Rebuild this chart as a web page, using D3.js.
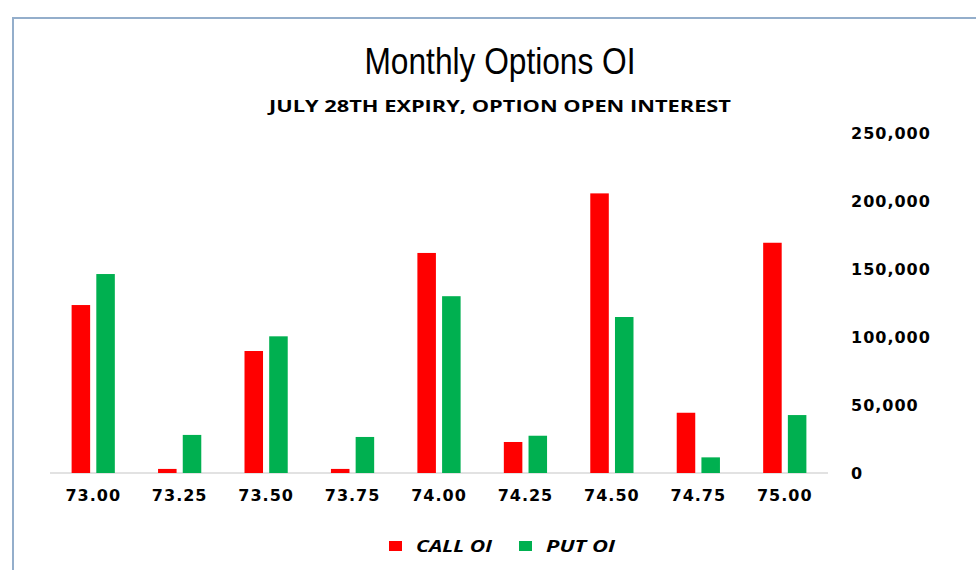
<!DOCTYPE html>
<html>
<head>
<meta charset="utf-8">
<script src="https://cdn.jsdelivr.net/npm/d3@7"></script>
<style>
  body { margin: 0; background: #fff; }
  svg { display: block; }
</style>
</head>
<body>
<div id="chart"></div>
<script>
const strikes = ["73.00", "73.25", "73.50", "73.75", "74.00", "74.25", "74.50", "74.75", "75.00"];
const callOI = [123500, 3000, 89700, 3000, 161800, 22800, 205600, 44300, 169300];
const putOI = [146300, 28000, 100500, 26500, 130000, 27400, 114700, 11500, 42600];
const seriesNames = ["CALL OI", "PUT OI"];
const seriesColors = ["#ff0000", "#00b050"];
const yTicks = [0, 50000, 100000, 150000, 200000, 250000];

const W = 976, H = 570;
const svg = d3.select("#chart").append("svg")
    .attr("width", W)
    .attr("height", H);

// outer frame (runs off the right and bottom)
svg.append("rect")
    .attr("x", 13).attr("y", 18)
    .attr("width", 1000).attr("height", 600)
    .attr("fill", "#fff")
    .attr("stroke", "#94aecb")
    .attr("stroke-width", 2);

const x0 = d3.scaleBand()
    .domain(strikes)
    .range([50, 828])
    .paddingInner(0.5)
    .paddingOuter(0.25);

const x1 = d3.scaleBand()
    .domain([0, 1])
    .range([0, x0.bandwidth()])
    .paddingInner(0.25);

const y = d3.scaleLinear()
    .domain([0, 250000])
    .range([473, 133]);

// titles
svg.append("text")
    .attr("x", 500).attr("y", 74)
    .attr("text-anchor", "middle")
    .attr("font-family", "Liberation Sans, Arial, sans-serif")
    .attr("font-size", 36)
    .attr("textLength", 271)
    .attr("lengthAdjust", "spacingAndGlyphs")
    .text("Monthly Options OI");

svg.append("text")
    .attr("x", 500).attr("y", 112)
    .attr("text-anchor", "middle")
    .attr("font-family", "Open Sans, sans-serif")
    .attr("font-weight", "bold")
    .attr("font-size", 15.5)
    .attr("textLength", 462)
    .attr("lengthAdjust", "spacingAndGlyphs")
    .text("JULY 28TH EXPIRY, OPTION OPEN INTEREST");

// baseline
svg.append("line")
    .attr("x1", 50).attr("x2", 828)
    .attr("y1", y(0)).attr("y2", y(0))
    .attr("stroke", "#d9d9d9")
    .attr("stroke-width", 1.5);

// bars
const groups = svg.append("g").selectAll("g")
    .data(strikes)
    .join("g")
    .attr("transform", d => `translate(${x0(d)},0)`);

groups.selectAll("rect")
    .data((d, i) => [callOI[i], putOI[i]])
    .join("rect")
    .attr("x", (d, j) => x1(j))
    .attr("y", d => y(d))
    .attr("width", x1.bandwidth())
    .attr("height", d => y(0) - y(d))
    .attr("fill", (d, j) => seriesColors[j]);

// category labels
svg.append("g").selectAll("text")
    .data(strikes)
    .join("text")
    .attr("x", d => x0(d) + x0.bandwidth() / 2)
    .attr("y", 501)
    .attr("text-anchor", "middle")
    .attr("font-family", "DejaVu Sans, Verdana, sans-serif")
    .attr("font-weight", "bold")
    .attr("font-size", 16)
    .attr("letter-spacing", 1)
    .text(d => d);

// right axis labels
const fmt = d3.format(",");
svg.append("g").selectAll("text")
    .data(yTicks)
    .join("text")
    .attr("x", 851)
    .attr("y", d => y(d) + 6)
    .attr("font-family", "DejaVu Sans, Verdana, sans-serif")
    .attr("font-weight", "bold")
    .attr("font-size", 16)
    .attr("letter-spacing", 1)
    .text(d => fmt(d));

// legend
const legendX = [389, 519];
const legendTextW = [76, 69];
const legend = svg.append("g").selectAll("g")
    .data(seriesNames)
    .join("g")
    .attr("transform", (d, i) => `translate(${legendX[i]},541)`);

legend.append("rect")
    .attr("width", 13).attr("height", 10)
    .attr("fill", (d, i) => seriesColors[i]);

legend.append("text")
    .attr("x", 27).attr("y", 11)
    .attr("font-family", "Open Sans, sans-serif")
    .attr("font-weight", "bold")
    .attr("font-style", "italic")
    .attr("font-size", 16)
    .attr("textLength", (d, i) => legendTextW[i])
    .attr("lengthAdjust", "spacingAndGlyphs")
    .text(d => d);
</script>
</body>
</html>
